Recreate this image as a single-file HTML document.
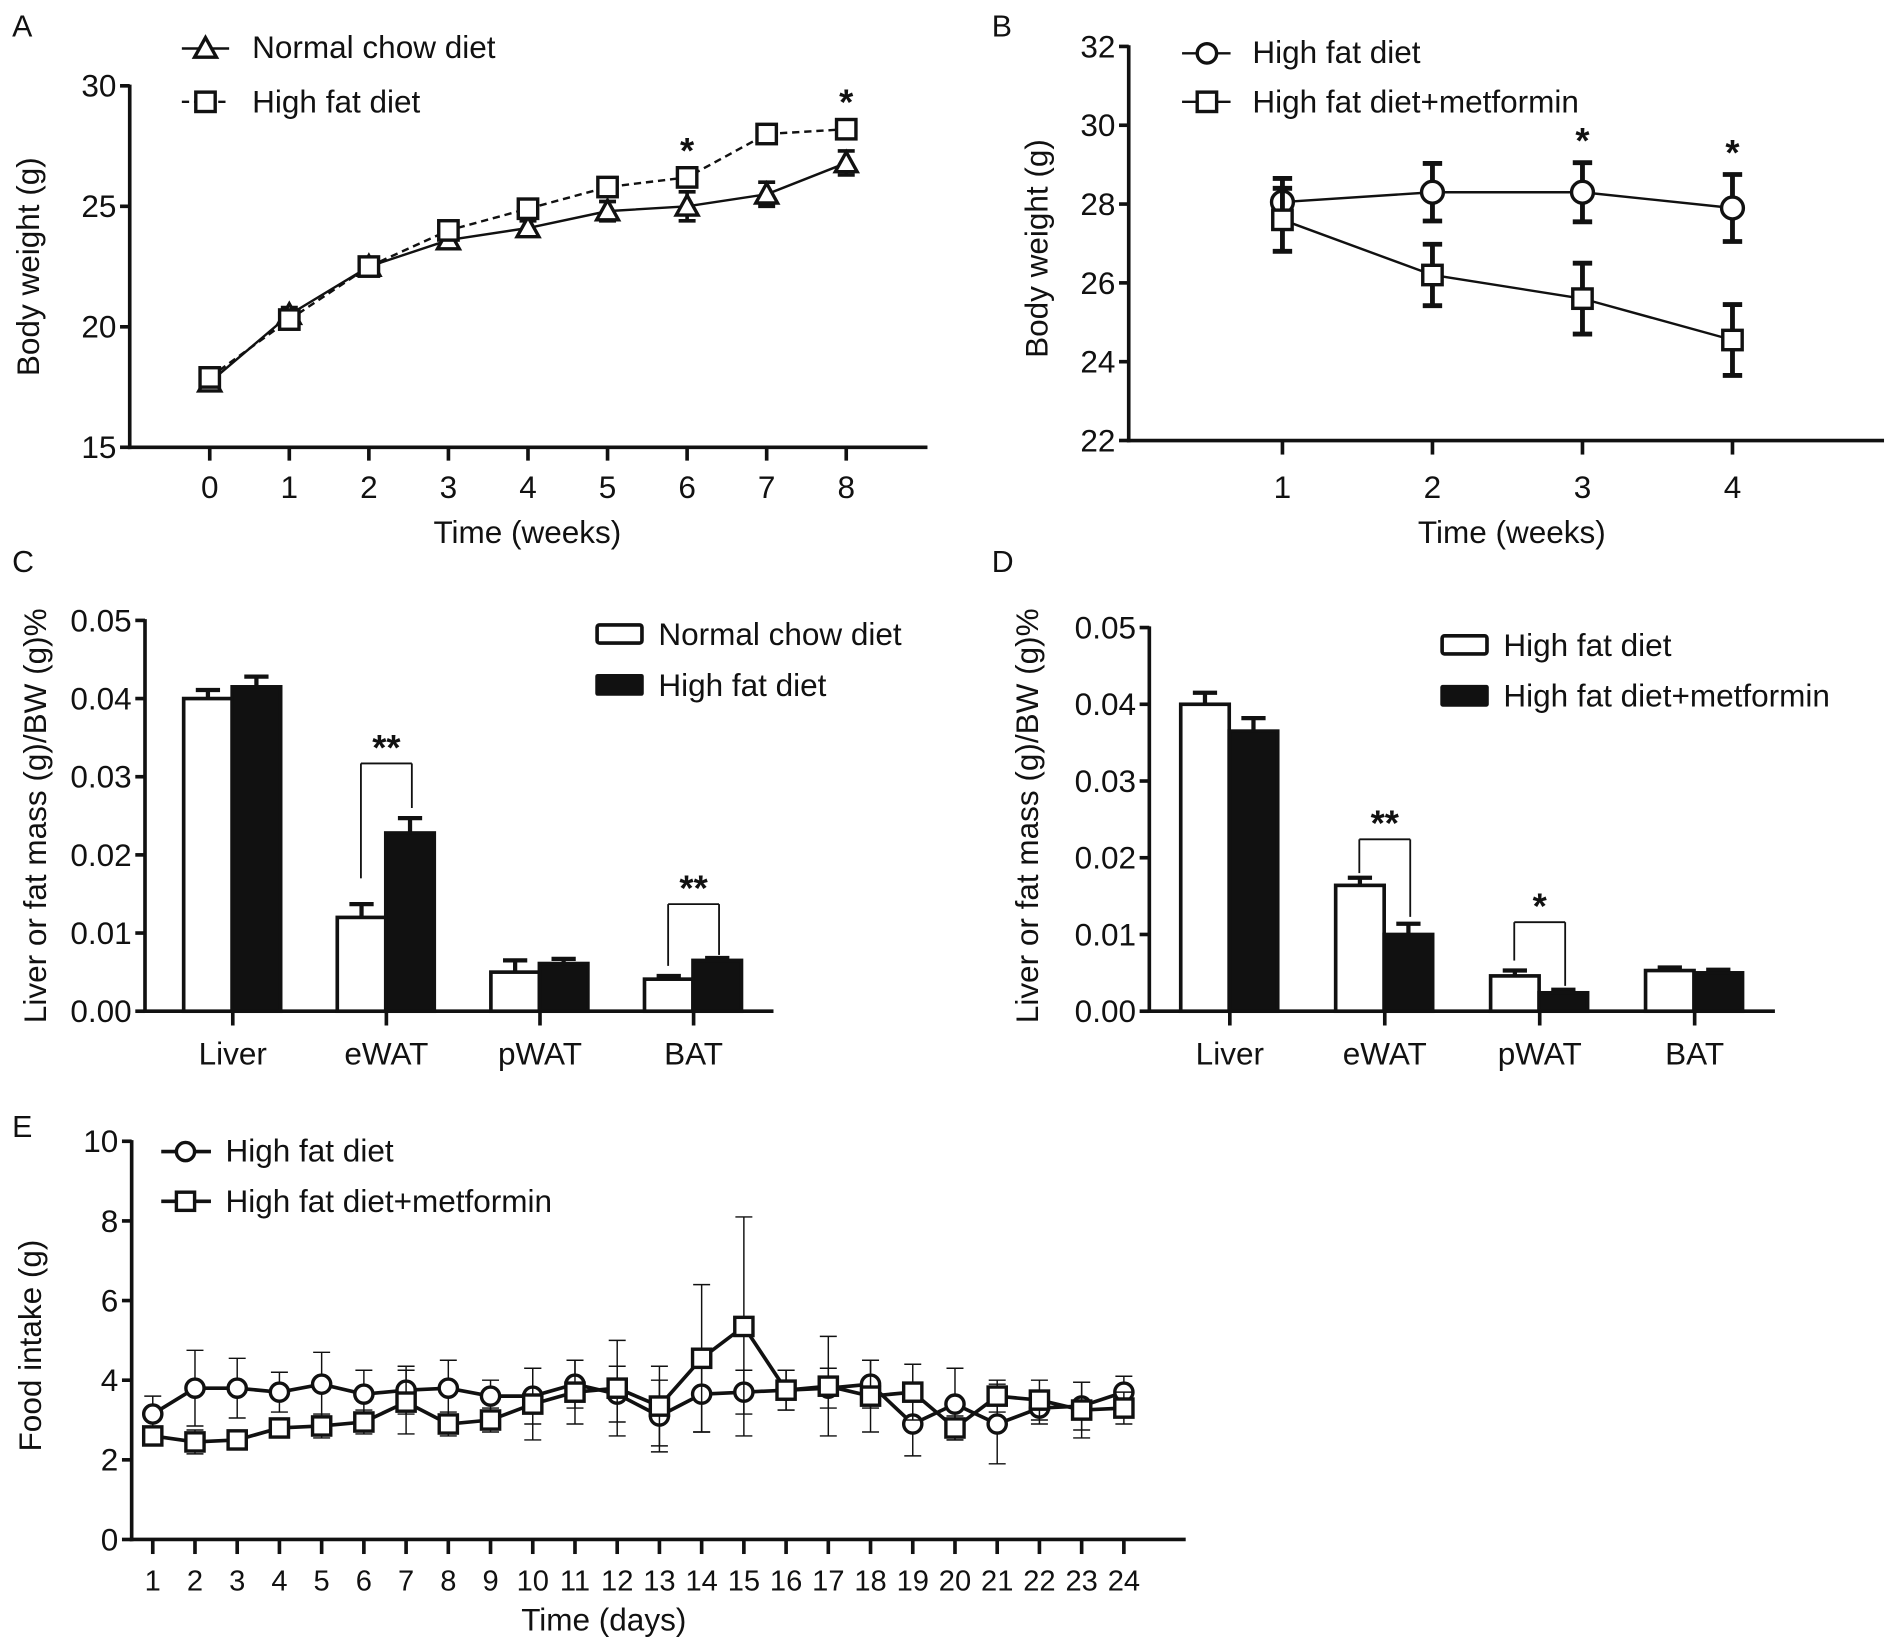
<!DOCTYPE html>
<html><head><meta charset="utf-8"><style>
html,body{margin:0;padding:0;background:#fff;}
svg{display:block;}
text{font-family:"Liberation Sans",Arial,sans-serif;fill:#111;}
.star{font-weight:bold;}
</style></head><body>
<svg id="fig" width="1901" height="1651" viewBox="0 0 1568 1362" preserveAspectRatio="none" xmlns="http://www.w3.org/2000/svg"></svg>
<script>
// ---------- Panel A data ----------
const aWeeks=[0,1,2,3,4,5,6,7,8];
const aNormal=[17.7,20.5,22.5,23.6,24.1,24.8,25.0,25.5,26.8];
const aNormalErr=[0.3,0.3,0.2,0.3,0.3,0.4,0.6,0.5,0.5];
const aHfd=[17.9,20.3,22.5,24.0,24.9,25.8,26.2,28.0,28.2];
const aHfdErr=[0.2,0.2,0.2,0.2,0.2,0.2,0.3,0.2,0.2];
const aTicksY=[15,20,25,30];
const aStars=[6,8];
// ---------- Panel B data ----------
const bWeeks=[1,2,3,4];
const bHfd=[28.05,28.3,28.3,27.9];
const bHfdErr=[0.6,0.73,0.75,0.85];
const bMet=[27.6,26.2,25.6,24.55];
const bMetErr=[0.8,0.78,0.9,0.9];
const bTicksY=[22,24,26,28,30,32];
const bStars=[3,4];
// ---------- Panel C data ----------
const cCats=["Liver","eWAT","pWAT","BAT"];
const cNormal=[0.0400,0.0120,0.0050,0.0041];
const cNormalErr=[0.0011,0.0017,0.0015,0.0004];
const cHfd=[0.0415,0.0228,0.0061,0.0065];
const cHfdErr=[0.0013,0.0019,0.0006,0.0003];
const cTicksY=[0,0.01,0.02,0.03,0.04,0.05];
const cTickLabels=["0.00","0.01","0.02","0.03","0.04","0.05"];
// ---------- Panel D data ----------
const dCats=["Liver","eWAT","pWAT","BAT"];
const dHfd=[0.0400,0.0164,0.0046,0.0053];
const dHfdErr=[0.0015,0.0010,0.0007,0.0004];
const dMet=[0.0365,0.0100,0.0024,0.0050];
const dMetErr=[0.0017,0.0014,0.0004,0.0004];
const dTicksY=[0,0.01,0.02,0.03,0.04,0.05];
const dTickLabels=["0.00","0.01","0.02","0.03","0.04","0.05"];
// ---------- Panel E data ----------
const eDays=[1,2,3,4,5,6,7,8,9,10,11,12,13,14,15,16,17,18,19,20,21,22,23,24];
const eHfd=[3.15,3.8,3.8,3.7,3.9,3.65,3.75,3.8,3.6,3.6,3.9,3.65,3.1,3.65,3.7,3.75,3.8,3.9,2.9,3.4,2.9,3.3,3.35,3.7];
const eHfdErr=[0.45,0.95,0.75,0.5,0.8,0.6,0.6,0.7,0.4,0.7,0.6,0.7,0.9,0.95,0.55,0.5,0.5,0.6,0.8,0.9,1.0,0.4,0.6,0.4];
const eMet=[2.6,2.45,2.5,2.8,2.85,2.95,3.45,2.9,3.0,3.4,3.7,3.8,3.35,4.55,5.35,3.75,3.85,3.6,3.7,2.8,3.6,3.5,3.25,3.3];
const eMetErr=[0.2,0.3,0.2,0.2,0.3,0.3,0.8,0.3,0.3,0.9,0.8,1.2,1.0,1.85,2.75,0.5,1.25,0.9,0.7,0.3,0.4,0.5,0.7,0.4];
const eTicksY=[0,2,4,6,8,10];

const NS="http://www.w3.org/2000/svg";
const svg=document.getElementById('fig');
function mk(tag,attrs,parent){const e=document.createElementNS(NS,tag);for(const k in attrs)e.setAttribute(k,attrs[k]);(parent||svg).appendChild(e);return e;}
function grp(name){const g=mk('g',{});return g;}
function txt(s,x,y,size,anchor,parent,rot){const t=mk('text',{x:x,y:y,'font-size':size,'text-anchor':anchor||'start'},parent);if(rot)t.setAttribute('transform','rotate(-90 '+x+' '+y+')');t.textContent=s;return t;}
function line(x1,y1,x2,y2,w,parent,dash){const l=mk('line',{x1:x1,y1:y1,x2:x2,y2:y2,stroke:'#111','stroke-width':w},parent);if(dash)l.setAttribute('stroke-dasharray',dash);return l;}
function marker(type,x,y,s,parent,fill){
  if(type==='sq')return mk('rect',{x:x-s,y:y-s,width:2*s,height:2*s,fill:fill||'#fff',stroke:'#111','stroke-width':2.8},parent);
  if(type==='ci')return mk('circle',{cx:x,cy:y,r:s,fill:'#fff',stroke:'#111','stroke-width':2.8},parent);
  return mk('polygon',{points:(x)+','+(y-s)+' '+(x-s)+','+(y+s*0.8)+' '+(x+s)+','+(y+s*0.8),fill:'#fff',stroke:'#111','stroke-width':2.8},parent);
}
function star(s,x,y,g){const t=txt(s,x,y,30,'middle',g);t.setAttribute('class','star');return t;}
function series(g,xs,ys,errs,X,Y,type,ms,lw,ew,cap,dash){
  let d='';xs.forEach((v,i)=>{d+=(i?'L':'M')+X(v)+','+Y(ys[i]);});
  const p=mk('path',{d:d,fill:'none',stroke:'#111','stroke-width':lw},g);
  if(dash)p.setAttribute('stroke-dasharray',dash);
  xs.forEach((v,i)=>{const x=X(v);const y1=Y(ys[i]+errs[i]),y2=Y(ys[i]-errs[i]);
    line(x,y1,x,y2,ew,g);line(x-cap,y1,x+cap,y1,ew,g);line(x-cap,y2,x+cap,y2,ew,g);});
  xs.forEach((v,i)=>{const m=marker(type,X(v),Y(ys[i]),ms,g);
    
    });
}
function yAxis(g,X0,Ytop,Ybot,ticks,labels,Y,fs){
  line(X0,Ytop-1,X0,Ybot+1.5,3,g);
  ticks.forEach((t,i)=>{const y=Y(t);line(X0-8,y,X0,y,3,g);txt(labels[i],X0-11,y+9,fs,'end',g);});
}

// ---------- Panel letters ----------
[['A',10,30],['B',818,30],['C',10,472],['D',818,472],['E',10,938]].forEach(a=>{const t=txt(a[0],a[1],a[2],25,'start');});

// ---------- Panel A ----------
(function(){
  const g=grp('panel-a-chart');
  const X=v=>173+v*(698-173)/8, Y=v=>369-(v-15)*(369-70.8)/15;
  yAxis(g,107,70.8,369,aTicksY,aTicksY.map(String),Y,26);
  line(105.5,369,765,369,3,g);
  aWeeks.forEach(w=>{line(X(w),369,X(w),380,3,g);txt(String(w),X(w),411,26,'middle',g);});
  const t1=txt('Time (weeks)',435,448,26,'middle',g);
  const t2=txt('Body weight (g)',32,220,26,'middle',g,true);
  const s1=grp('series-normal-chow');g.appendChild(s1);
  series(s1,aWeeks,aNormal,aNormalErr,X,Y,'tri',9,2,3,7);
  const s2=grp('series-high-fat');g.appendChild(s2);
  series(s2,aWeeks,aHfd,aHfdErr,X,Y,'sq',8,2,3,7,'6,4');
  aStars.forEach(w=>{const i=aWeeks.indexOf(w);star('*',X(w),Y(aHfd[i])-12,g);});
  const L=grp('legend-a');g.appendChild(L);
  line(150,40,189,40,2,L);marker('tri',169.5,40,9,L);txt('Normal chow diet',208,48,26,'start',L);
  line(150,84,189,84,2,L,'6,4');marker('sq',169.5,84,8,L);txt('High fat diet',208,93,26,'start',L);
})();

// ---------- Panel B ----------
(function(){
  const g=grp('panel-b-chart');
  const X=v=>1057.8+(v-1)*(1429-1057.8)/3, Y=v=>363.4-(v-22)*(363.4-38.3)/10;
  yAxis(g,931,38.3,363.4,bTicksY,bTicksY.map(String),Y,26);
  line(929.5,363.4,1554,363.4,3,g);
  bWeeks.forEach(w=>{line(X(w),363.4,X(w),375,3,g);txt(String(w),X(w),411,26,'middle',g);});
  const t1=txt('Time (weeks)',1247,448,26,'middle',g);
  const t2=txt('Body weight (g)',864,205,26,'middle',g,true);
  const s1=grp('series-high-fat');g.appendChild(s1);
  series(s1,bWeeks,bHfd,bHfdErr,X,Y,'ci',9,2,4,8);
  const s2=grp('series-metformin');g.appendChild(s2);
  series(s2,bWeeks,bMet,bMetErr,X,Y,'sq',8,2,4,8);
  bStars.forEach(w=>{const i=bWeeks.indexOf(w);star('*',X(w),Y(bHfd[i]+bHfdErr[i])-8,g);});
  const L=grp('legend-b');g.appendChild(L);
  line(975,44,1015,44,2,L);marker('ci',995.5,44,8,L);txt('High fat diet',1033,52,26,'start',L);
  line(975,84,1015,84,2,L);marker('sq',995.5,84,8,L);txt('High fat diet+metformin',1033,93,26,'start',L);
})();

// ---------- Bar chart helper ----------
function barChart(name,X0,Xend,yTop,cats,center,a,aErr,b,bErr,Y,ticks,labels,legend,brackets,titleX){
  const g=grp(name);
  yAxis(g,X0,yTop,834.2,ticks,labels,Y,26);
  line(X0-1.5,834.2,Xend,834.2,3,g);
  cats.forEach((c,i)=>{const cx=center(i);line(cx,834.2,cx,846,3,g);txt(c,cx,878,26,'middle',g);
    [[a,aErr,cx-42,'#fff'],[b,bErr,cx-2,'#111']].forEach((s,k)=>{
      const v=s[0][i],e=s[1][i],x=s[2],w=43;
      const yv=Y(v),ye=Y(v+e);
      line(x+w/2,yv,x+w/2,ye,3.5,g);line(x+w/2-10,ye,x+w/2+10,ye,3.5,g);
      const r=mk('rect',{x:x+1.5,y:yv,width:w-3,height:834.2-yv,fill:s[3],stroke:'#111','stroke-width':3},g);
      
      
    });});
  brackets.forEach(bk=>{const i=bk[0],cx=center(i);const yt=Y(bk[1]);
    line(cx-21,yt,cx+21,yt,1.5,g);line(cx-21,yt,cx-21,Y(bk[2]),1.5,g);line(cx+21,yt,cx+21,Y(bk[3]),1.5,g);
    star(bk[4],cx,yt-3,g);});
  const t=txt('Liver or fat mass (g)/BW (g)%',titleX,673,26,'middle',g,true);
  
  const L=grp(name+'-legend');g.appendChild(L);
  mk('rect',{x:legend[0]+1.5,y:legend[1]+1.5,width:37,height:15,fill:'#fff',stroke:'#111','stroke-width':3,rx:2},L);
  mk('rect',{x:legend[0],y:legend[1]+42,width:40,height:18,fill:'#111',rx:2},L);
  txt(legend[2],legend[0]+52,legend[1]+18,26,'start',L);
  txt(legend[3],legend[0]+52,legend[1]+60,26,'start',L);
}
// ---------- Panel C ----------
(function(){
  const Y=v=>834.2-v*(834.2-511.8)/0.05;
  barChart('panel-c-chart',119.6,638,511.8,cCats,i=>192+i*126.7,cNormal,cNormalErr,cHfd,cHfdErr,Y,cTicksY,cTickLabels,
    [491,514,'Normal chow diet','High fat diet'],
    [[1,0.0317,0.017,0.026,'**'],[3,0.0137,0.0058,0.0072,'**']],38);
})();
// ---------- Panel D ----------
(function(){
  const Y=v=>834.2-v*(834.2-517.7)/0.05;
  barChart('panel-d-chart',948,1464,517.7,dCats,i=>1014.4+i*127.8,dHfd,dHfdErr,dMet,dMetErr,Y,dTicksY,dTickLabels,
    [1188,523,'High fat diet','High fat diet+metformin'],
    [[1,0.0224,0.018,0.0123,'**'],[2,0.0116,0.0066,0.0033,'*']],856);
})();

// ---------- Panel E ----------
(function(){
  const g=grp('panel-e-chart');
  const X=v=>126+(v-1)*(927-126)/23, Y=v=>1270-v*(1270-941.5)/10;
  yAxis(g,108.6,941.5,1270,eTicksY,eTicksY.map(String),Y,26);
  line(107,1270,978,1270,3,g);
  eDays.forEach(d=>{line(X(d),1270,X(d),1282,3,g);txt(String(d),X(d),1312,24,'middle',g);});
  const t1=txt('Time (days)',498,1345,26,'middle',g);
  const t2=txt('Food intake (g)',34,1110,26,'middle',g,true);
  const s1=grp('series-high-fat');g.appendChild(s1);
  series(s1,eDays,eHfd,eHfdErr,X,Y,'ci',7.5,3,1.2,7);
  const s2=grp('series-metformin');g.appendChild(s2);
  series(s2,eDays,eMet,eMetErr,X,Y,'sq',7.5,3,1.2,7);
  const L=grp('legend-e');g.appendChild(L);
  line(133,950,174,950,3,L);marker('ci',153,950,7.5,L);txt('High fat diet',186,958,26,'start',L);
  line(133,991,174,991,3,L);marker('sq',153,991,7.5,L);txt('High fat diet+metformin',186,1000,26,'start',L);
})();
</script>
</body></html>
